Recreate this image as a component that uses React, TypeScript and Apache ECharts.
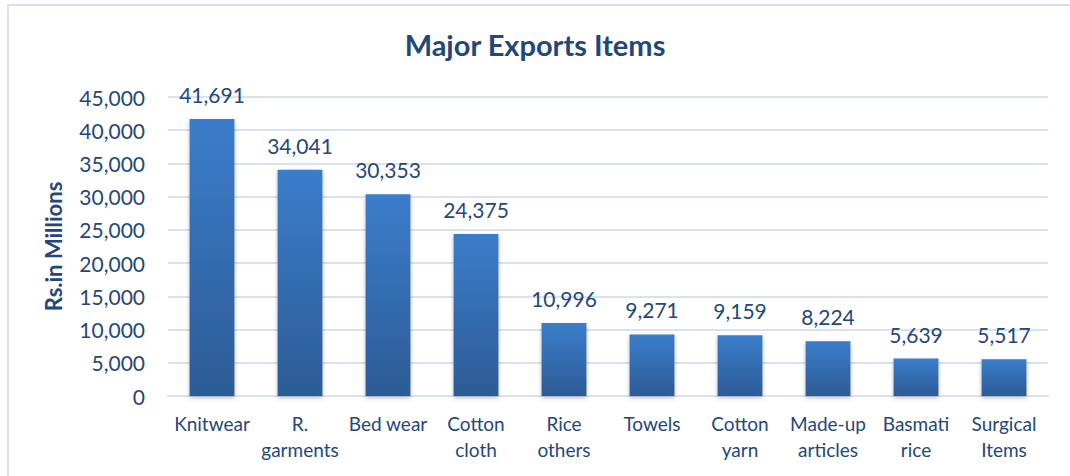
import React, { useEffect, useRef } from "react";
import * as echarts from "echarts";

const categories = [
  "Knitwear",
  "R.\ngarments",
  "Bed wear",
  "Cotton\ncloth",
  "Rice\nothers",
  "Towels",
  "Cotton\nyarn",
  "Made-up\narticles",
  "Basmati\nrice",
  "Surgical\nItems",
];
const values = [41691, 34041, 30353, 24375, 10996, 9271, 9159, 8224, 5639, 5517];
const titleText = "Major Exports Items";
const yAxisName = "Rs.in Millions";

const TEXT = "#24477A";
const FONT = "Lato, 'Open Sans', sans-serif";

export default function App() {
  const ref = useRef<HTMLDivElement>(null);
  useEffect(() => {
    if (!ref.current) return;
    const chart = echarts.init(ref.current, null, { renderer: "svg" });
    chart.setOption({
      animation: false,
      backgroundColor: "#ffffff",
      textStyle: { fontFamily: FONT },
      title: {
        text: titleText,
        left: "center",
        top: 25,
        textStyle: { color: TEXT, fontSize: 29, fontWeight: "bold", fontFamily: FONT },
      },
      graphic: [
        {
          type: "rect",
          shape: { x: 8, y: 5, width: 1080, height: 490 },
          style: { fill: "none", stroke: "#D6E0EF", lineWidth: 2 },
          silent: true,
        },
      ],
      grid: { left: 168, right: 22, top: 97, bottom: 80 },
      xAxis: {
        type: "category",
        data: categories,
        axisTick: { show: false },
        axisLine: { lineStyle: { color: "#D9E2F1", width: 2 } },
        axisLabel: {
          color: TEXT,
          fontSize: 19,
          lineHeight: 26,
          margin: 14,
          fontFamily: FONT,
          interval: 0,
        },
      },
      yAxis: {
        type: "value",
        min: 0,
        max: 45000,
        interval: 5000,
        name: yAxisName,
        nameLocation: "middle",
        nameGap: 104,
        nameTextStyle: { color: TEXT, fontSize: 22, fontWeight: "bold", fontFamily: FONT },
        axisLine: { show: false },
        axisTick: { show: false },
        axisLabel: {
          color: TEXT,
          fontSize: 21,
          margin: 23,
          fontFamily: FONT,
          formatter: (v: number) => v.toLocaleString("en-US"),
        },
        splitLine: { lineStyle: { color: "#D9E2F1", width: 2 } },
      },
      series: [
        {
          type: "bar",
          data: values,
          barWidth: "51%",
          itemStyle: {
            color: new echarts.graphic.LinearGradient(0, 0, 0, 1, [
              { offset: 0, color: "#3B7DCB" },
              { offset: 1, color: "#2C5B96" },
            ]),
            shadowColor: "rgba(0,0,0,0.25)",
            shadowBlur: 4,
            shadowOffsetY: 2,
          },
          label: {
            show: true,
            position: "top",
            distance: 14,
            color: TEXT,
            fontSize: 21,
            fontFamily: FONT,
            formatter: (p: any) => Number(p.value).toLocaleString("en-US"),
          },
        },
      ],
    });
    return () => chart.dispose();
  }, []);
  return (
    <div
      ref={ref}
      style={{ position: "absolute", left: 0, top: 0, width: 1070, height: 476 }}
    />
  );
}
